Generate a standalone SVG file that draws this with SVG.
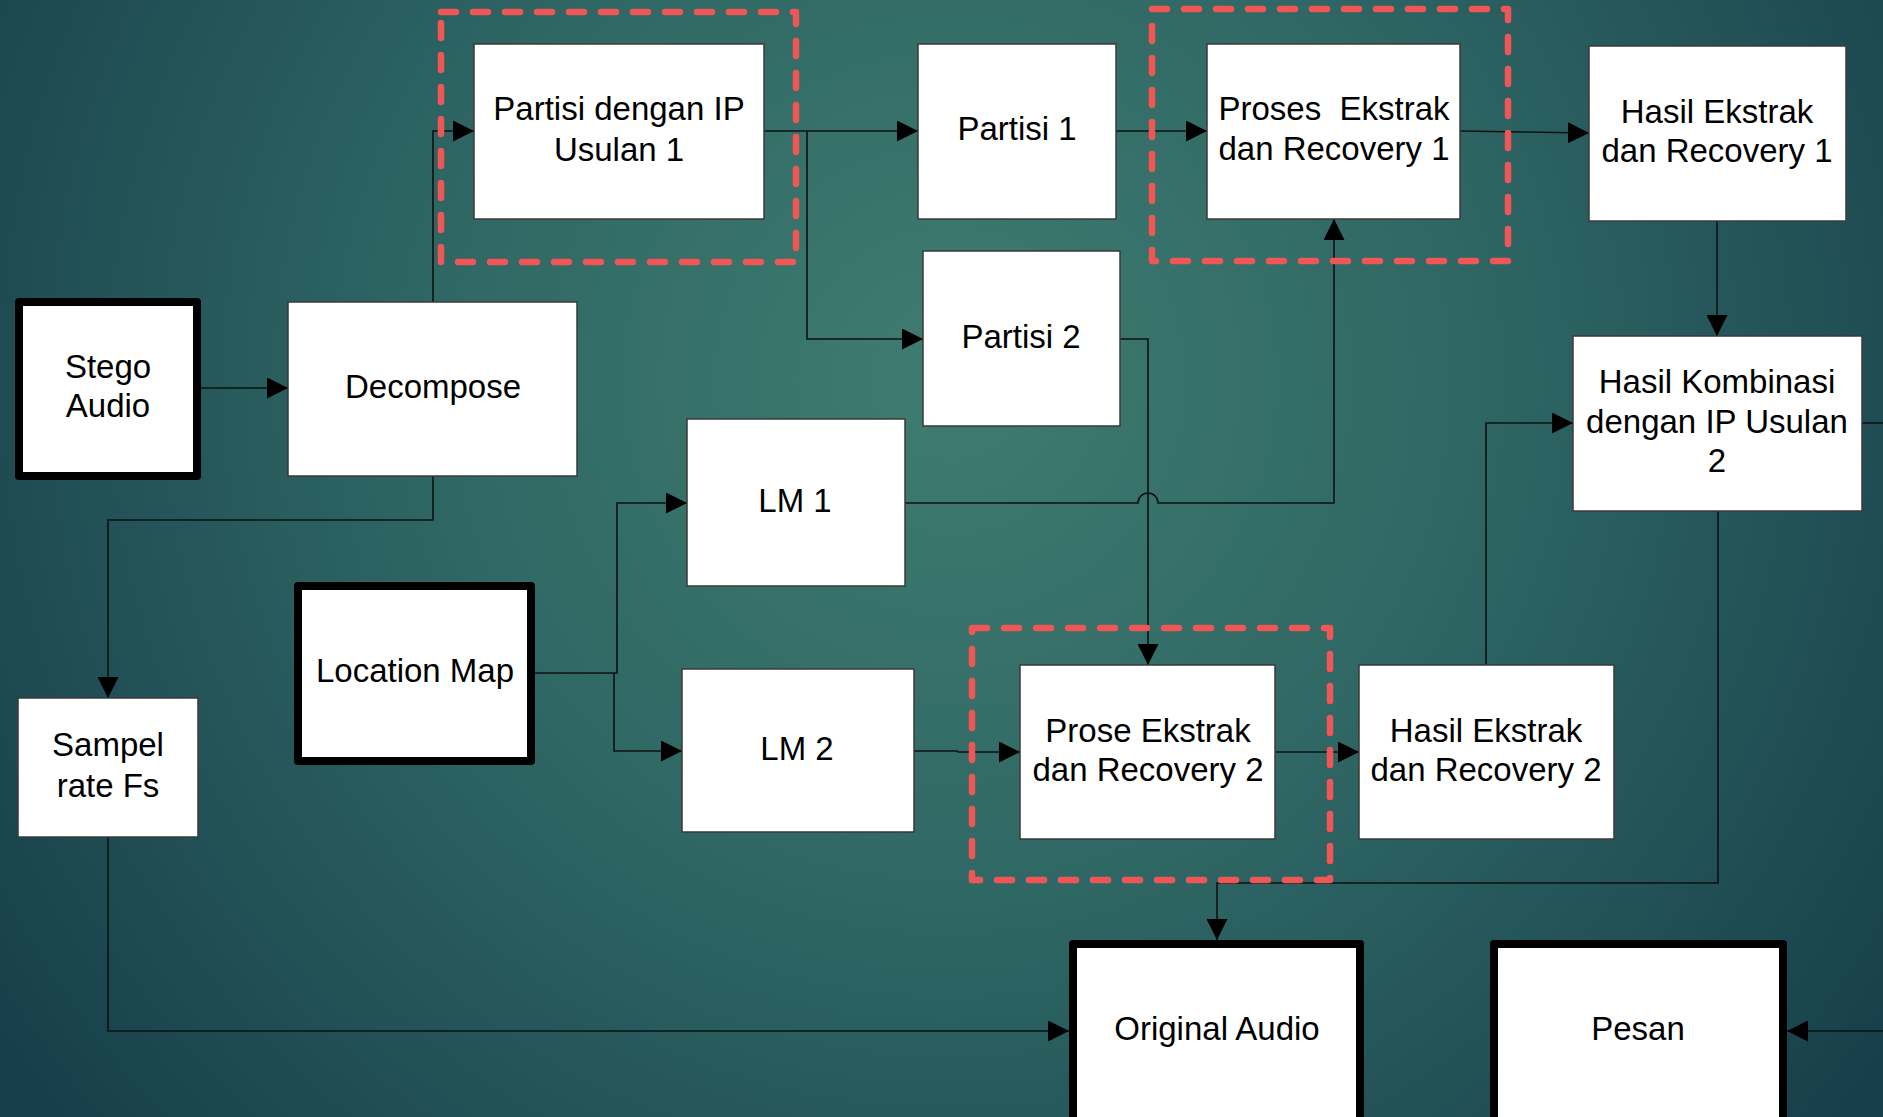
<svg xmlns="http://www.w3.org/2000/svg" width="1883" height="1117" viewBox="0 0 1883 1117">
<defs>
<radialGradient id="bg" gradientUnits="userSpaceOnUse" cx="950" cy="380" r="1150">
<stop offset="0" stop-color="#3f7c70"/>
<stop offset="0.45" stop-color="#2f6764"/>
<stop offset="1" stop-color="#173f4b"/>
</radialGradient>
<marker id="arr" markerUnits="userSpaceOnUse" markerWidth="21" markerHeight="21" refX="21" refY="10.5" orient="auto" viewBox="0 0 21 21">
<path d="M0,0 L21,10.5 L0,21 z" fill="#000"/>
</marker>
</defs>
<style>
.box{fill:#fff;stroke:#3a3a3a;stroke-width:1.5}
.thick{fill:#fff;stroke:#000;stroke-width:8;stroke-linejoin:round}
.lbl{font-family:"Liberation Sans",Arial,sans-serif;font-size:33px;fill:#000;text-anchor:middle}
.con{fill:none;stroke:#111;stroke-width:1.6}
.red{fill:none;stroke:#ef5656;stroke-width:6.5;stroke-dasharray:15 17;stroke-linecap:round;stroke-linejoin:round}
</style>
<rect x="0" y="0" width="1883" height="1117" fill="url(#bg)"/>

<g id="connectors">
<path class="con" d="M201,388 H288" marker-end="url(#arr)"/>
<path class="con" d="M433,302 V131 H474" marker-end="url(#arr)"/>
<path class="con" d="M433,476 V520 H108 V698" marker-end="url(#arr)"/>
<path class="con" d="M764,131 H918" marker-end="url(#arr)"/>
<path class="con" d="M807,131 V339 H923" marker-end="url(#arr)"/>
<path class="con" d="M1116,131 H1207" marker-end="url(#arr)"/>
<path class="con" d="M1460,131 L1589,133" marker-end="url(#arr)"/>
<path class="con" d="M1717,221 V336" marker-end="url(#arr)"/>
<path class="con" d="M1120,339 H1148 V665" marker-end="url(#arr)"/>
<path class="con" d="M905,503 H1138 A10,10 0 0 1 1158,503 H1334 V219" marker-end="url(#arr)"/>
<path class="con" d="M535,673 H617 V503 H687" marker-end="url(#arr)"/>
<path class="con" d="M614,673 V751 H682" marker-end="url(#arr)"/>
<path class="con" d="M914,751 H957 L958,752 H1020" marker-end="url(#arr)"/>
<path class="con" d="M1275,752 H1359" marker-end="url(#arr)"/>
<path class="con" d="M1486,665 V423 H1573" marker-end="url(#arr)"/>
<path class="con" d="M1862,423 H1883"/>
<path class="con" d="M1718,511 V883 H1217 V940" marker-end="url(#arr)"/>
<path class="con" d="M108,837 V1031 H1069" marker-end="url(#arr)"/>
<path class="con" d="M1883,1031 H1787" marker-end="url(#arr)"/>
</g>

<g id="group-ip1"><rect class="red" x="441" y="12" width="355" height="250"/></g>
<g id="group-proses1"><rect class="red" x="1152" y="9" width="356" height="252"/></g>
<g id="group-proses2"><rect class="red" x="972" y="628" width="358" height="252"/></g>

<g id="stego-audio">
<rect class="thick" x="19" y="302" width="178" height="174"/>
<text class="lbl" x="108" y="378">Stego</text>
<text class="lbl" x="108" y="417">Audio</text>
</g>
<g id="decompose">
<rect class="box" x="288" y="302" width="289" height="174"/>
<text class="lbl" x="433" y="398">Decompose</text>
</g>
<g id="partisi-ip1">
<rect class="box" x="474" y="44" width="290" height="175"/>
<text class="lbl" x="619" y="120">Partisi dengan IP</text>
<text class="lbl" x="619" y="161">Usulan 1</text>
</g>
<g id="partisi1">
<rect class="box" x="918" y="44" width="198" height="175"/>
<text class="lbl" x="1017" y="140">Partisi 1</text>
</g>
<g id="partisi2">
<rect class="box" x="923" y="251" width="197" height="175"/>
<text class="lbl" x="1021" y="348">Partisi 2</text>
</g>
<g id="proses1">
<rect class="box" x="1207" y="44" width="253" height="175"/>
<text class="lbl" x="1334" y="120" style="white-space:pre">Proses  Ekstrak</text>
<text class="lbl" x="1334" y="160">dan Recovery 1</text>
</g>
<g id="hasil1">
<rect class="box" x="1589" y="46" width="257" height="175"/>
<text class="lbl" x="1717" y="123">Hasil Ekstrak</text>
<text class="lbl" x="1717" y="162">dan Recovery 1</text>
</g>
<g id="hasil-kombinasi">
<rect class="box" x="1573" y="336" width="289" height="175"/>
<text class="lbl" x="1717" y="393">Hasil Kombinasi</text>
<text class="lbl" x="1717" y="433">dengan IP Usulan</text>
<text class="lbl" x="1717" y="472">2</text>
</g>
<g id="lm1">
<rect class="box" x="687" y="419" width="218" height="167"/>
<text class="lbl" x="795" y="512">LM 1</text>
</g>
<g id="lm2">
<rect class="box" x="682" y="669" width="232" height="163"/>
<text class="lbl" x="797" y="760">LM 2</text>
</g>
<g id="location-map">
<rect class="thick" x="298" y="586" width="233" height="175"/>
<text class="lbl" x="415" y="682">Location Map</text>
</g>
<g id="sampel">
<rect class="box" x="18" y="698" width="180" height="139"/>
<text class="lbl" x="108" y="756">Sampel</text>
<text class="lbl" x="108" y="797">rate Fs</text>
</g>
<g id="proses2">
<rect class="box" x="1020" y="665" width="255" height="174"/>
<text class="lbl" x="1148" y="742">Prose Ekstrak</text>
<text class="lbl" x="1148" y="781">dan Recovery 2</text>
</g>
<g id="hasil2">
<rect class="box" x="1359" y="665" width="255" height="174"/>
<text class="lbl" x="1486" y="742">Hasil Ekstrak</text>
<text class="lbl" x="1486" y="781">dan Recovery 2</text>
</g>
<g id="original-audio">
<rect class="thick" x="1073" y="944" width="287" height="178"/>
<text class="lbl" x="1217" y="1040">Original Audio</text>
</g>
<g id="pesan">
<rect class="thick" x="1494" y="944" width="289" height="178"/>
<text class="lbl" x="1638" y="1040">Pesan</text>
</g>
</svg>
